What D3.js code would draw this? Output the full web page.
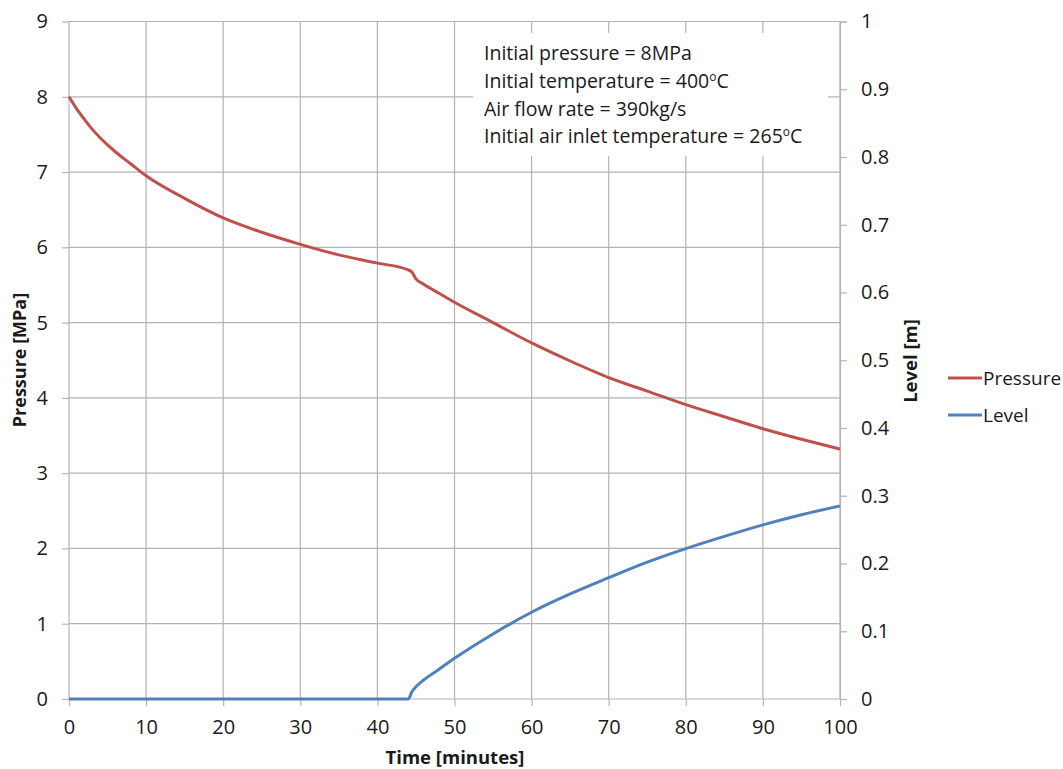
<!DOCTYPE html>
<html>
<head>
<meta charset="utf-8">
<script src="https://cdn.jsdelivr.net/npm/d3@7"></script>
<style>
  body { margin: 0; background: #fff; }
  svg { display: block; }
</style>
</head>
<body>
<div id="chart"></div>
<script>
// time in minutes
const pressureTime = [0, 1, 2, 3, 4, 5, 6, 8, 10, 15, 20, 25, 30, 35, 40, 44, 44.5, 45, 46, 48, 50, 55, 60, 65, 70, 75, 80, 85, 90, 95, 100];
const pressureValues = [8.00, 7.84, 7.70, 7.57, 7.46, 7.36, 7.27, 7.11, 6.95, 6.65, 6.39, 6.20, 6.04, 5.90, 5.79, 5.70, 5.67, 5.58, 5.51, 5.39, 5.27, 5.00, 4.73, 4.49, 4.27, 4.09, 3.91, 3.75, 3.59, 3.45, 3.32];

const levelTime = [0, 44, 44.5, 45, 46, 48, 50, 55, 60, 65, 70, 75, 80, 85, 90, 95, 100];
const levelValues = [0, 0, 0.011, 0.018, 0.028, 0.044, 0.060, 0.096, 0.128, 0.155, 0.179, 0.202, 0.222, 0.240, 0.257, 0.272, 0.285];

const xTicks = [0, 10, 20, 30, 40, 50, 60, 70, 80, 90, 100];
const pressureTicks = [0, 1, 2, 3, 4, 5, 6, 7, 8, 9];
const levelTicks = [0, 0.1, 0.2, 0.3, 0.4, 0.5, 0.6, 0.7, 0.8, 0.9, 1];

const notes = [
  ["Initial pressure = 8MPa", ""],
  ["Initial temperature = 400", "C"],
  ["Air flow rate = 390kg/s", ""],
  ["Initial air inlet temperature = 265", "C"]
];

const pressure = pressureTime.map((t, i) => [t, pressureValues[i]]);
const level = levelTime.map((t, i) => [t, levelValues[i]]);

const font = "Open Sans";
const gridColor = "#b4b4b4";

const svg = d3.select("#chart")
  .append("svg")
  .attr("width", 1063)
  .attr("height", 769)
  .style("background-color", "#fff");

const xScale = d3.scaleLinear().domain([0, 100]).range([69, 840]);
const yScale = d3.scaleLinear().domain([0, 9]).range([699, 21.5]);
const yScale2 = d3.scaleLinear().domain([0, 1]).range([699, 21.5]);

// grid
const grid = svg.append("g");
grid.selectAll(".vgrid")
  .data(xTicks)
  .join("line")
  .attr("x1", d => xScale(d))
  .attr("x2", d => xScale(d))
  .attr("y1", yScale(9))
  .attr("y2", yScale(0))
  .attr("stroke", gridColor)
  .attr("stroke-width", 1.2);

grid.selectAll(".hgrid")
  .data(pressureTicks)
  .join("line")
  .attr("x1", xScale(0))
  .attr("x2", xScale(100))
  .attr("y1", d => yScale(d))
  .attr("y2", d => yScale(d))
  .attr("stroke", gridColor)
  .attr("stroke-width", 1.2);

// x-axis
const xAxisGroup = svg.append("g")
  .attr("transform", `translate(0,${yScale(0)})`)
  .call(d3.axisBottom(xScale).tickValues(xTicks).tickSize(7).tickPadding(14));

xAxisGroup.select(".domain").attr("stroke", "none");

// left axis
const yAxisGroup = svg.append("g")
  .attr("transform", `translate(${xScale(0)},0)`)
  .call(d3.axisLeft(yScale).tickValues(pressureTicks).tickSize(7).tickPadding(14));

yAxisGroup.select(".domain").attr("stroke", "none");

// right axis
const y2AxisGroup = svg.append("g")
  .attr("transform", `translate(${xScale(100)},0)`)
  .call(d3.axisRight(yScale2).tickValues(levelTicks).tickFormat(d3.format("~g")).tickSize(7).tickPadding(14));

y2AxisGroup.select(".domain")
  .attr("stroke", gridColor)
  .attr("stroke-width", 1.2);

[xAxisGroup, yAxisGroup, y2AxisGroup].forEach(g => {
  g.selectAll(".tick line")
    .attr("stroke", gridColor)
    .attr("stroke-width", 1.2);
  g.selectAll(".tick text")
    .attr("fill", "#1a1a1a")
    .attr("font-size", 20)
    .attr("font-family", font);
});

// axis titles
svg.append("text")
  .text("Time [minutes]")
  .attr("x", 455)
  .attr("y", 764)
  .attr("text-anchor", "middle")
  .attr("font-family", font)
  .attr("font-weight", 700)
  .attr("font-size", 18.5)
  .attr("fill", "#1a1a1a");

svg.append("text")
  .text("Pressure [MPa]")
  .attr("transform", `translate(26,360) rotate(-90)`)
  .attr("text-anchor", "middle")
  .attr("font-family", font)
  .attr("font-weight", 700)
  .attr("font-size", 18)
  .attr("fill", "#1a1a1a");

svg.append("text")
  .text("Level [m]")
  .attr("transform", `translate(917,361) rotate(-90)`)
  .attr("text-anchor", "middle")
  .attr("font-family", font)
  .attr("font-weight", 700)
  .attr("font-size", 18.5)
  .attr("fill", "#1a1a1a");

// note box
const noteGroup = svg.append("g");
noteGroup.append("rect")
  .attr("x", 473)
  .attr("y", 33)
  .attr("width", 355)
  .attr("height", 123)
  .attr("fill", "#fff");

noteGroup.selectAll("text")
  .data(notes)
  .join("text")
  .attr("x", 484)
  .attr("y", (d, i) => 60 + i * 27.8)
  .attr("font-family", font)
  .attr("font-size", 19.5)
  .attr("fill", "#1a1a1a")
  .each(function(d) {
    const t = d3.select(this);
    t.append("tspan").text(d[0]);
    if (d[1]) {
      t.append("tspan").text("o").attr("font-size", 12).attr("dy", -7);
      t.append("tspan").text(d[1]).attr("dy", 7);
    }
  });

// lines
const pressureLine = d3.line()
  .x(d => xScale(d[0]))
  .y(d => yScale(d[1]))
  .curve(d3.curveMonotoneX);

const levelLine = d3.line()
  .x(d => xScale(d[0]))
  .y(d => yScale2(d[1]))
  .curve(d3.curveMonotoneX);

svg.append("path")
  .datum(level)
  .attr("d", levelLine)
  .attr("fill", "none")
  .attr("stroke", "#4F81BD")
  .attr("stroke-width", 3);

svg.append("path")
  .datum(pressure)
  .attr("d", pressureLine)
  .attr("fill", "none")
  .attr("stroke", "#C0504D")
  .attr("stroke-width", 3);

// legend
const legendItems = [["Pressure", "#C0504D"], ["Level", "#4F81BD"]];
const legend = svg.append("g").attr("transform", "translate(948,378)");
legend.selectAll("g")
  .data(legendItems)
  .join("g")
  .attr("transform", (d, i) => `translate(0,${i * 37})`)
  .each(function(d) {
    const g = d3.select(this);
    g.append("line")
      .attr("x1", 0).attr("x2", 34)
      .attr("stroke", d[1])
      .attr("stroke-width", 3);
    g.append("text")
      .text(d[0])
      .attr("x", 35)
      .attr("dy", "0.35em")
      .attr("font-family", font)
      .attr("font-size", 19)
      .attr("fill", "#1a1a1a");
  });
</script>
</body>
</html>
